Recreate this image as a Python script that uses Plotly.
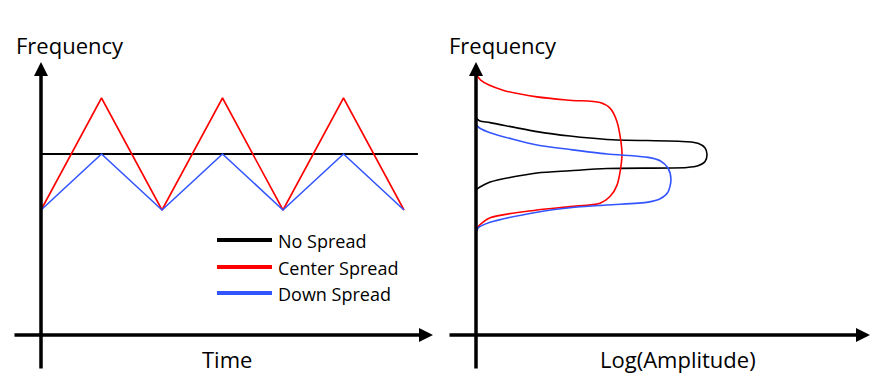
import plotly.graph_objects as go

# ---- Left panel: frequency vs time ----
time_pts = [0, 1, 2, 3, 4, 5, 6]
center_spread = [95, 105, 95, 105, 95, 105, 95]
down_spread = [95, 100, 95, 100, 95, 100, 95]
nominal_time = [0, 6.23]
nominal_freq = [100, 100]

# ---- Right panel: frequency vs log(amplitude) ----
red_amp = [0, 0.2, 1.17, 2.64, 4.07, 5.37, 5.8, 6.1, 6.32, 6.1, 5.8, 5.37, 4.07, 2.64, 0.61, 0.09, 0]
red_freq = [107.2, 106.6, 105.7, 105.1, 104.8, 104.6, 104.1, 102.9, 100.0, 97.2, 96.2, 95.6, 95.3, 95.0, 94.3, 93.5, 93.0]

black_amp = [0, 0.17, 0.61, 2.64, 4.07, 5.67, 9.13, 9.61, 9.91, 10.0, 9.91, 9.61, 9.13, 5.67, 4.07, 2.64, 0.61, 0.17, 0]
black_freq = [103.2, 102.95, 102.8, 102.0, 101.6, 101.3, 101.1, 100.95, 100.55, 99.95, 99.3, 98.95, 98.8, 98.7, 98.5, 98.3, 97.5, 97.05, 96.8]

blue_amp = [0, 0.17, 0.61, 2.64, 4.07, 5.67, 7.45, 7.97, 8.31, 8.44, 8.31, 7.97, 7.45, 5.67, 4.07, 2.64, 0.61, 0.09, 0]
blue_freq = [102.6, 102.3, 101.9, 100.8, 100.4, 100.0, 99.7, 99.4, 98.75, 97.7, 96.6, 96.0, 95.7, 95.45, 95.2, 94.8, 93.9, 93.4, 92.95]

legend_names = ["No Spread", "Center Spread", "Down Spread"]
RED = "#FF0000"
BLUE = "#3355FF"
BLACK = "#000000"

W, H = 880, 381
OX, OY = 8, 8          # page body offset of the plot div
FONT = "Open Sans"

fig = go.Figure()

# left panel traces
fig.add_trace(go.Scatter(x=nominal_time, y=nominal_freq, mode="lines",
                         line=dict(color=BLACK, width=2), xaxis="x", yaxis="y", showlegend=False))
fig.add_trace(go.Scatter(x=time_pts, y=center_spread, mode="lines",
                         line=dict(color=RED, width=1.6), xaxis="x", yaxis="y", showlegend=False))
fig.add_trace(go.Scatter(x=time_pts, y=down_spread, mode="lines",
                         line=dict(color=BLUE, width=1.6), xaxis="x", yaxis="y", showlegend=False))

# right panel traces
fig.add_trace(go.Scatter(x=black_amp, y=black_freq, mode="lines", line_shape="spline",
                         line=dict(color=BLACK, width=1.6, smoothing=0.8), xaxis="x2", yaxis="y", showlegend=False))
fig.add_trace(go.Scatter(x=red_amp, y=red_freq, mode="lines", line_shape="spline",
                         line=dict(color=RED, width=1.6, smoothing=0.8), xaxis="x2", yaxis="y", showlegend=False))
fig.add_trace(go.Scatter(x=blue_amp, y=blue_freq, mode="lines", line_shape="spline",
                         line=dict(color=BLUE, width=1.6, smoothing=0.8), xaxis="x2", yaxis="y", showlegend=False))


def px(xp):
    return (xp - OX) / W


def py(yp):
    return 1 - (yp - OY) / H


annotations = []
# axis arrows (tip, tail offset in pixels)
for tip, off in [((41, 62), (0, 308)), ((433, 335), (-420, 0)),
                 ((476, 62), (0, 308)), ((870, 335), (-422, 0))]:
    annotations.append(dict(x=px(tip[0]), y=py(tip[1]), xref="paper", yref="paper",
                            ax=off[0], ay=off[1], axref="pixel", ayref="pixel",
                            text="", showarrow=True, arrowhead=2, arrowsize=0.8,
                            arrowwidth=3.5, arrowcolor=BLACK))

# axis titles
annotations += [
    dict(x=px(14), y=py(45), xref="paper", yref="paper", text="Frequency", showarrow=False,
         xanchor="left", yanchor="middle", font=dict(family=FONT, size=22, color=BLACK)),
    dict(x=px(447), y=py(45), xref="paper", yref="paper", text="Frequency", showarrow=False,
         xanchor="left", yanchor="middle", font=dict(family=FONT, size=22, color=BLACK)),
    dict(x=px(227), y=py(359), xref="paper", yref="paper", text="Time", showarrow=False,
         xanchor="center", yanchor="middle", font=dict(family=FONT, size=22, color=BLACK)),
    dict(x=px(678), y=py(359), xref="paper", yref="paper", text="Log(Amplitude)", showarrow=False,
         xanchor="center", yanchor="middle", font=dict(family=FONT, size=22, color=BLACK)),
]

# custom legend
shapes = []
for name, col, yp in zip(legend_names, [BLACK, RED, BLUE], [240, 267, 293]):
    shapes.append(dict(type="line", xref="paper", yref="paper",
                       x0=px(217), x1=px(272), y0=py(yp), y1=py(yp),
                       line=dict(color=col, width=4)))
    annotations.append(dict(x=px(276), y=py(yp + 1), xref="paper", yref="paper", text=name,
                            showarrow=False, xanchor="left", yanchor="middle",
                            font=dict(family=FONT, size=18, color=BLACK)))

hidden = dict(visible=False, showgrid=False, zeroline=False, fixedrange=True)

# pixel scales (reference image): time 60.5 px/unit, amplitude 23.1 px/unit, freq 11.2 px/unit
x0_left = 41 - OX
x0_right = 476 - OX - W / 2
y_nom = 154 - OY

fig.update_layout(
    width=W, height=H,
    margin=dict(l=0, r=0, t=0, b=0),
    paper_bgcolor="white", plot_bgcolor="white",
    xaxis=dict(domain=[0, 0.5], range=[-x0_left / 60.5, (W / 2 - x0_left) / 60.5], anchor="y", **hidden),
    xaxis2=dict(domain=[0.5, 1], range=[-x0_right / 23.1, (W / 2 - x0_right) / 23.1], anchor="y", **hidden),
    yaxis=dict(domain=[0, 1], range=[100 + (y_nom - H) / 11.2, 100 + y_nom / 11.2], **hidden),
    annotations=annotations,
    shapes=shapes,
    showlegend=False,
)

fig.write_html("out.html")
